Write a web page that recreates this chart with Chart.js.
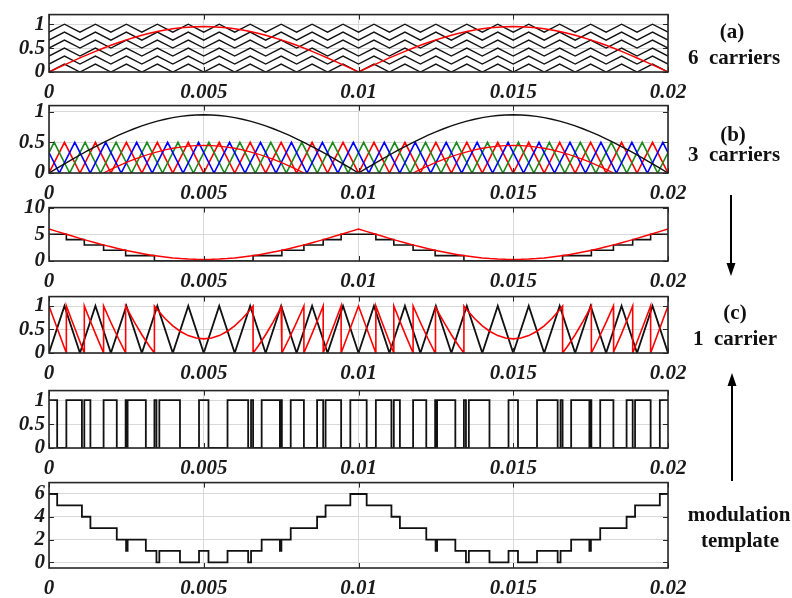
<!DOCTYPE html>
<html><head><meta charset="utf-8">
<script src="https://cdn.jsdelivr.net/npm/chart.js@4.4.1/dist/chart.umd.min.js"></script>
<style>
html,body{margin:0;padding:0;background:#fff;}
#wrap{position:relative;width:792px;height:598px;overflow:hidden;background:#fff;}
#wrap canvas{position:absolute;left:0;}
.lbl{position:absolute;font-family:'Liberation Serif','Times New Roman',serif;font-weight:bold;font-size:21px;color:#111;white-space:pre;transform:translate(-50%,-50%);line-height:1;}
</style></head><body>
<div id="wrap">
<div class="lbl" style="left:732px;top:31px">(a)</div>
<div class="lbl" style="left:734px;top:57px">6  carriers</div>
<div class="lbl" style="left:733px;top:134px">(b)</div>
<div class="lbl" style="left:734px;top:154px">3  carriers</div>
<div class="lbl" style="left:735px;top:312px">(c)</div>
<div class="lbl" style="left:735px;top:338px">1  carrier</div>
<div class="lbl" style="left:739px;top:514px">modulation</div>
<div class="lbl" style="left:740px;top:540px">template</div>
<svg width="792" height="598" style="position:absolute;left:0;top:0;pointer-events:none">
<line x1="731" y1="195" x2="731" y2="266" stroke="#000" stroke-width="2"/>
<polygon points="726.5,263 735.5,263 731,276" fill="#000"/>
<line x1="732" y1="481" x2="732" y2="384" stroke="#000" stroke-width="2"/>
<polygon points="727.5,386 736.5,386 732,373" fill="#000"/>
</svg>
</div>
<script>
// ---- axis ticks ----
const xTicks = [0, 0.005, 0.01, 0.015, 0.02];
const xTickLabels = ['0', '0.005', '0.01', '0.015', '0.02'];

// ---- reference |sin| (panel a red, panel b black) ----
const refT = [0,0.00025,0.0005,0.00075,0.001,0.00125,0.0015,0.00175,0.002,0.00225,0.0025,0.00275,0.003,0.00325,0.0035,0.00375,0.004,0.00425,0.0045,0.00475,0.005,0.00525,0.0055,0.00575,0.006,0.00625,0.0065,0.00675,0.007,0.00725,0.0075,0.00775,0.008,0.00825,0.0085,0.00875,0.009,0.00925,0.0095,0.00975,0.01,0.01025,0.0105,0.01075,0.011,0.01125,0.0115,0.01175,0.012,0.01225,0.0125,0.01275,0.013,0.01325,0.0135,0.01375,0.014,0.01425,0.0145,0.01475,0.015,0.01525,0.0155,0.01575,0.016,0.01625,0.0165,0.01675,0.017,0.01725,0.0175,0.01775,0.018,0.01825,0.0185,0.01875,0.019,0.01925,0.0195,0.01975,0.02];
const refY = [0,0.075,0.149,0.222,0.294,0.364,0.431,0.496,0.558,0.617,0.672,0.722,0.769,0.810,0.846,0.878,0.904,0.924,0.938,0.947,0.950,0.947,0.938,0.924,0.904,0.878,0.846,0.810,0.769,0.722,0.672,0.617,0.558,0.496,0.431,0.364,0.294,0.222,0.149,0.075,0,
0.075,0.149,0.222,0.294,0.364,0.431,0.496,0.558,0.617,0.672,0.722,0.769,0.810,0.846,0.878,0.904,0.924,0.938,0.947,0.950,0.947,0.938,0.924,0.904,0.878,0.846,0.810,0.769,0.722,0.672,0.617,0.558,0.496,0.431,0.364,0.294,0.222,0.149,0.075,0];

// ---- level signal (panel c upper, red) ----
const levelY = [6.000,5.553,5.108,4.669,4.239,3.819,3.412,3.022,2.650,2.298,1.970,1.666,1.389,1.140,0.921,0.734,0.579,0.458,0.370,0.318,0.300,0.318,0.370,0.458,0.579,0.734,0.921,1.140,1.389,1.666,1.970,2.298,2.650,3.022,3.412,3.819,4.239,4.669,5.108,5.553,6.000,
5.553,5.108,4.669,4.239,3.819,3.412,3.022,2.650,2.298,1.970,1.666,1.389,1.140,0.921,0.734,0.579,0.458,0.370,0.318,0.300,0.318,0.370,0.458,0.579,0.734,0.921,1.140,1.389,1.666,1.970,2.298,2.650,3.022,3.412,3.819,4.239,4.669,5.108,5.553,6.000];

// ---- panel b red residual ----
const residualPoints = [[0.001764,0],[0.002,0.058],[0.00225,0.117],[0.0025,0.172],[0.00275,0.222],[0.003,0.269],[0.00325,0.310],[0.0035,0.346],[0.00375,0.378],[0.004,0.404],[0.00425,0.424],[0.0045,0.438],[0.00475,0.447],[0.005,0.450],[0.00525,0.447],[0.0055,0.438],[0.00575,0.424],[0.006,0.404],[0.00625,0.378],[0.0065,0.346],[0.00675,0.310],[0.007,0.269],[0.00725,0.222],[0.0075,0.172],[0.00775,0.117],[0.008,0.058],[0.008236,0],[0.01,null],
[0.011764,0],[0.012,0.058],[0.01225,0.117],[0.0125,0.172],[0.01275,0.222],[0.013,0.269],[0.01325,0.310],[0.0135,0.346],[0.01375,0.378],[0.014,0.404],[0.01425,0.424],[0.0145,0.438],[0.01475,0.447],[0.015,0.450],[0.01525,0.447],[0.0155,0.438],[0.01575,0.424],[0.016,0.404],[0.01625,0.378],[0.0165,0.346],[0.01675,0.310],[0.017,0.269],[0.01725,0.222],[0.0175,0.172],[0.01775,0.117],[0.018,0.058],[0.018236,0]];

// ---- carriers ----
const carrierVertexT = [0,0.0005,0.001,0.0015,0.002,0.0025,0.003,0.0035,0.004,0.0045,0.005,0.0055,0.006,0.0065,0.007,0.0075,0.008,0.0085,0.009,0.0095,0.01,0.0105,0.011,0.0115,0.012,0.0125,0.013,0.0135,0.014,0.0145,0.015,0.0155,0.016,0.0165,0.017,0.0175,0.018,0.0185,0.019,0.0195,0.02];
const unitTriangle = [0,1,0,1,0,1,0,1,0,1,0,1,0,1,0,1,0,1,0,1,0,1,0,1,0,1,0,1,0,1,0,1,0,1,0,1,0,1,0,1,0];
const sixBands = [[0,0.1667],[0.1667,0.3333],[0.3333,0.5],[0.5,0.6667],[0.6667,0.8333],[0.8333,1]];
const redCarrierBand = [0, 0.5];
const blueCarrier = [[0,0.333],[0.000333,0],[0.000833,0.5],[0.001333,0],[0.001833,0.5],[0.002333,0],[0.002833,0.5],[0.003333,0],[0.003833,0.5],[0.004333,0],[0.004833,0.5],[0.005333,0],[0.005833,0.5],[0.006333,0],[0.006833,0.5],[0.007333,0],[0.007833,0.5],[0.008333,0],[0.008833,0.5],[0.009333,0],[0.009833,0.5],[0.010333,0],[0.010833,0.5],[0.011333,0],[0.011833,0.5],[0.012333,0],[0.012833,0.5],[0.013333,0],[0.013833,0.5],[0.014333,0],[0.014833,0.5],[0.015333,0],[0.015833,0.5],[0.016333,0],[0.016833,0.5],[0.017333,0],[0.017833,0.5],[0.018333,0],[0.018833,0.5],[0.019333,0],[0.019833,0.5],[0.02,0.333]];
const greenCarrier = [[0,0.333],[0.000167,0.5],[0.000667,0],[0.001167,0.5],[0.001667,0],[0.002167,0.5],[0.002667,0],[0.003167,0.5],[0.003667,0],[0.004167,0.5],[0.004667,0],[0.005167,0.5],[0.005667,0],[0.006167,0.5],[0.006667,0],[0.007167,0.5],[0.007667,0],[0.008167,0.5],[0.008667,0],[0.009167,0.5],[0.009667,0],[0.010167,0.5],[0.010667,0],[0.011167,0.5],[0.011667,0],[0.012167,0.5],[0.012667,0],[0.013167,0.5],[0.013667,0],[0.014167,0.5],[0.014667,0],[0.015167,0.5],[0.015667,0],[0.016167,0.5],[0.016667,0],[0.017167,0.5],[0.017667,0],[0.018167,0.5],[0.018667,0],[0.019167,0.5],[0.019667,0],[0.02,0.333]];

// ---- panel c: staircase, sawtooth, PWM, template ----
const levelSteps = [[0,5],[0.000561,4],[0.001141,3],[0.001764,2],[0.002476,1],[0.003406,0],[0.006594,1],[0.007524,2],[0.008236,3],[0.008859,4],[0.009439,5],[0.010561,4],[0.011141,3],[0.011764,2],[0.012476,1],[0.013406,0],[0.016594,1],[0.017524,2],[0.018236,3],[0.018859,4],[0.019439,5],[0.02,5]];
const sawtoothPoints = [[0,1],[0.00025,0.553],[0.0005,0.108],[0.000561,0],[0.000561,1],[0.00075,0.669],[0.001,0.239],[0.001141,0],[0.001141,1],[0.00125,0.819],[0.0015,0.412],[0.00175,0.022],[0.001764,0],[0.001764,1],[0.002,0.650],[0.00225,0.298],[0.002476,0],[0.002476,1],[0.0025,0.970],[0.00275,0.666],[0.003,0.389],[0.00325,0.140],[0.003406,0],[0.003406,1],[0.0035,0.921],[0.00375,0.734],[0.004,0.579],[0.00425,0.458],[0.0045,0.370],[0.00475,0.318],[0.005,0.300],[0.00525,0.318],[0.0055,0.370],[0.00575,0.458],[0.006,0.579],[0.00625,0.734],[0.0065,0.921],[0.006594,1],[0.006594,0],[0.00675,0.140],[0.007,0.389],[0.00725,0.666],[0.0075,0.970],[0.007524,1],[0.007524,0],[0.00775,0.298],[0.008,0.650],[0.008236,1],[0.008236,0],[0.00825,0.022],[0.0085,0.412],[0.00875,0.819],[0.008859,1],[0.008859,0],[0.009,0.239],[0.00925,0.669],[0.009439,1],[0.009439,0],[0.0095,0.108],[0.00975,0.553],[0.01,1],
[0.01025,0.553],[0.0105,0.108],[0.010561,0],[0.010561,1],[0.01075,0.669],[0.011,0.239],[0.011141,0],[0.011141,1],[0.01125,0.819],[0.0115,0.412],[0.01175,0.022],[0.011764,0],[0.011764,1],[0.012,0.650],[0.01225,0.298],[0.012476,0],[0.012476,1],[0.0125,0.970],[0.01275,0.666],[0.013,0.389],[0.01325,0.140],[0.013406,0],[0.013406,1],[0.0135,0.921],[0.01375,0.734],[0.014,0.579],[0.01425,0.458],[0.0145,0.370],[0.01475,0.318],[0.015,0.300],[0.01525,0.318],[0.0155,0.370],[0.01575,0.458],[0.016,0.579],[0.01625,0.734],[0.0165,0.921],[0.016594,1],[0.016594,0],[0.01675,0.140],[0.017,0.389],[0.01725,0.666],[0.0175,0.970],[0.017524,1],[0.017524,0],[0.01775,0.298],[0.018,0.650],[0.018236,1],[0.018236,0],[0.01825,0.022],[0.0185,0.412],[0.01875,0.819],[0.018859,1],[0.018859,0],[0.019,0.239],[0.01925,0.669],[0.019439,1],[0.019439,0],[0.0195,0.108],[0.01975,0.553],[0.02,1]];
const pwmSteps = [[0,1],[0.000264,0],[0.000561,1],[0.001064,0],[0.001141,1],[0.001338,0],[0.001764,1],[0.00219,0],[0.002476,1],[0.002491,0],[0.00254,1],[0.003129,0],[0.003406,1],[0.003472,0],[0.003565,1],[0.004232,0],[0.004847,1],[0.005153,0],[0.005768,1],[0.006435,0],[0.006528,1],[0.006594,0],[0.006871,1],[0.00746,0],[0.007509,1],[0.007524,0],[0.00781,1],[0.008236,0],[0.008662,1],[0.008859,0],[0.008936,1],[0.009439,0],[0.009736,1],
[0.010264,0],[0.010561,1],[0.011064,0],[0.011141,1],[0.011338,0],[0.011764,1],[0.01219,0],[0.012476,1],[0.012491,0],[0.01254,1],[0.013129,0],[0.013406,1],[0.013472,0],[0.013565,1],[0.014232,0],[0.014847,1],[0.015153,0],[0.015768,1],[0.016435,0],[0.016528,1],[0.016594,0],[0.016871,1],[0.01746,0],[0.017509,1],[0.017524,0],[0.01781,1],[0.018236,0],[0.018662,1],[0.018859,0],[0.018936,1],[0.019439,0],[0.019736,1],[0.02,1]];
const templateSteps = [[0,6],[0.000264,5],[0.001064,4],[0.001338,3],[0.00219,2],[0.002491,1],[0.00254,2],[0.003129,1],[0.003472,0],[0.003565,1],[0.004232,0],[0.004847,1],[0.005153,0],[0.005768,1],[0.006435,0],[0.006528,1],[0.006871,2],[0.00746,1],[0.007509,2],[0.00781,3],[0.008662,4],[0.008936,5],[0.009736,6],
[0.010264,5],[0.011064,4],[0.011338,3],[0.01219,2],[0.012491,1],[0.01254,2],[0.013129,1],[0.013472,0],[0.013565,1],[0.014232,0],[0.014847,1],[0.015153,0],[0.015768,1],[0.016435,0],[0.016528,1],[0.016871,2],[0.01746,1],[0.017509,2],[0.01781,3],[0.018662,4],[0.018936,5],[0.019736,6],[0.02,6]];

// ---- y tick sets per panel ----
const yTicksUnit = [0, 0.5, 1];
const yLabelsUnit = ['0', '0.5', '1'];
const yTicksLevel = [0, 5, 10];
const yLabelsLevel = ['0', '5', '10'];
const yTicksTemplate = [0, 2, 4, 6];
const yLabelsTemplate = ['0', '2', '4', '6'];

// ---------------- drawing ----------------
const BLACK = '#111111', RED = '#ff0000', GREEN = '#1a8a1a', BLUE = '#0000ff';
const GRID = '#d9d9d9', AXIS = '#262626';
const tickFont = {family: "'Liberation Serif','Times New Roman',serif", size: 21, style: 'italic', weight: 'bold'};
const toXY = arr => arr.map(p => ({x: p[0], y: p[1]}));
const zipXY = (xs, ys) => xs.map((x, i) => ({x: x, y: ys[i]}));

const framePlugin = {
  id: 'frame',
  afterDraw(chart) {
    const {ctx, chartArea: a, scales: {x, y}} = chart;
    ctx.save();
    ctx.strokeStyle = AXIS;
    ctx.lineWidth = 1;
    const L = 5;
    ctx.beginPath();
    x.ticks.forEach(t => {
      const px = Math.round(x.getPixelForValue(t.value)) + 0.5;
      ctx.moveTo(px, a.bottom); ctx.lineTo(px, a.bottom - L);
      ctx.moveTo(px, a.top); ctx.lineTo(px, a.top + L);
    });
    y.ticks.forEach(t => {
      const py = Math.round(y.getPixelForValue(t.value)) + 0.5;
      ctx.moveTo(a.left, py); ctx.lineTo(a.left + L, py);
      ctx.moveTo(a.right, py); ctx.lineTo(a.right - L, py);
    });
    ctx.stroke();
    ctx.lineWidth = 1.6;
    ctx.strokeRect(a.left, a.top, a.right - a.left, a.bottom - a.top);
    ctx.restore();
  }
};

function line(data, color, width, extra) {
  return Object.assign({data: data, borderColor: color, borderWidth: width, pointRadius: 0, fill: false, tension: 0, spanGaps: false}, extra || {});
}

function makePanel(top, bottom, yMin, yMax, yTicks, yLabels, datasets) {
  const padTop = 14, padBottom = 36;
  const cv = document.createElement('canvas');
  const h = bottom - top + padTop + padBottom;
  cv.width = 700; cv.height = h;
  cv.style.width = '700px'; cv.style.height = h + 'px';
  cv.style.top = (top - padTop) + 'px';
  document.getElementById('wrap').insertBefore(cv, document.getElementById('wrap').firstChild);
  new Chart(cv, {
    type: 'line',
    data: {datasets: datasets},
    options: {
      responsive: false, animation: false, devicePixelRatio: 1, events: [],
      layout: {padding: {top: padTop, right: 32, left: 0, bottom: 0}},
      plugins: {legend: {display: false}, tooltip: {enabled: false}},
      scales: {
        x: {
          type: 'linear', min: 0, max: 0.02,
          afterBuildTicks: s => { s.ticks = xTicks.map(v => ({value: v})); },
          afterFit: s => { s.height = padBottom; },
          ticks: {callback: (v, i) => xTickLabels[i], font: tickFont, color: '#1a1a1a', padding: 8, maxRotation: 0, autoSkip: false},
          grid: {color: GRID, lineWidth: 1, drawTicks: false},
          border: {display: false}
        },
        y: {
          type: 'linear', min: yMin, max: yMax,
          afterBuildTicks: s => { s.ticks = yTicks.map(v => ({value: v})); },
          afterFit: s => { s.width = 49; },
          ticks: {callback: (v, i) => yLabels[i], font: tickFont, color: '#1a1a1a', padding: 4, autoSkip: false},
          grid: {color: GRID, lineWidth: 1, drawTicks: false},
          border: {display: false}
        }
      }
    },
    plugins: [framePlugin]
  });
}

// Panel (a): 6 carriers + reference
const dsA = [line(zipXY(refT, refY), RED, 1.5)];
sixBands.forEach(b => {
  dsA.push(line(carrierVertexT.map((t, i) => ({x: t, y: b[0] + (b[1] - b[0]) * unitTriangle[i]})), BLACK, 1.4));
});
makePanel(12, 72, 0, 1.2, yTicksUnit, yLabelsUnit, dsA);

// Panel (b): 3 carriers
makePanel(103, 173, 0, 1.1, yTicksUnit, yLabelsUnit, [
  line(zipXY(refT, refY), BLACK, 1.4),
  line(toXY(residualPoints), RED, 1.3),
  line(toXY(blueCarrier), BLUE, 1.6),
  line(toXY(greenCarrier), GREEN, 1.6),
  line(carrierVertexT.map((t, i) => ({x: t, y: redCarrierBand[0] + (redCarrierBand[1] - redCarrierBand[0]) * unitTriangle[i]})), RED, 1.6)
]);

// Panel (c) upper: level + staircase
makePanel(205, 261, 0, 10, yTicksLevel, yLabelsLevel, [
  line(zipXY(refT, levelY), RED, 1.5),
  line(toXY(levelSteps), BLACK, 1.6, {stepped: true})
]);

// Panel (c): 1 carrier
makePanel(294, 353, 0, 1.2, yTicksUnit, yLabelsUnit, [
  line(toXY(sawtoothPoints), RED, 1.6),
  line(zipXY(carrierVertexT, unitTriangle), BLACK, 1.8)
]);

// PWM
makePanel(388, 448, 0, 1.2, yTicksUnit, yLabelsUnit, [
  line(toXY(pwmSteps), BLACK, 1.8, {stepped: true})
]);

// modulation template
makePanel(480, 568, -0.5, 7, yTicksTemplate, yLabelsTemplate, [
  line(toXY(templateSteps), BLACK, 1.8, {stepped: true})
]);
</script>
</body></html>
